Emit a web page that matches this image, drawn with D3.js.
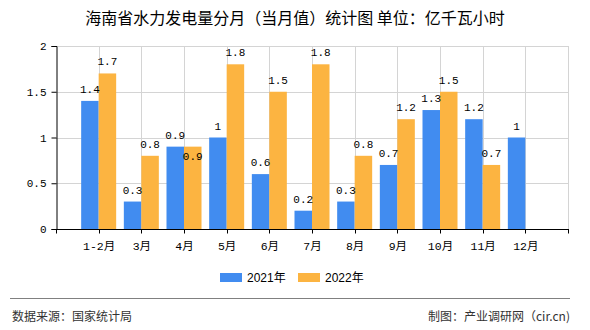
<!DOCTYPE html>
<html>
<head>
<meta charset="utf-8">
<script src="https://cdn.jsdelivr.net/npm/d3@7/dist/d3.min.js"></script>
<style>
  html, body { margin: 0; padding: 0; background: #fff; }
  svg { display: block; }
</style>
</head>
<body>
<svg id="chart" width="590" height="330"></svg>
<script>
const categories = ["1-2月", "3月", "4月", "5月", "6月", "7月", "8月", "9月", "10月", "11月", "12月"];
const series2021 = [1.4, 0.3, 0.9, 1, 0.6, 0.2, 0.3, 0.7, 1.3, 1.2, 1];
const series2022 = [1.7, 0.8, 0.9, 1.8, 1.5, 1.8, 0.8, 1.2, 1.5, 0.7, null];
const seriesNames = ["2021年", "2022年"];
const yTicks = [0, 0.5, 1, 1.5, 2];
const colors = ["#418CF0", "#FCB441"];

(function () {
const svg = d3.select("#chart");
const pLeft = 56, pRight = 568, pTop = 46, pBottom = 229;
const monoFont = "'Liberation Mono', 'DejaVu Sans Mono', 'Noto Sans CJK SC', monospace";
const cjkFont = "'Noto Sans CJK SC', 'Liberation Sans', sans-serif";

const x = d3.scalePoint().domain(categories).range([pLeft, pRight]).padding(1);
const y = d3.scaleLinear().domain([0, 2]).range([pBottom, pTop]);
const barW = 17.5;

// Title
svg.append("text")
  .attr("x", 295).attr("y", 24)
  .attr("text-anchor", "middle")
  .attr("font-family", cjkFont)
  .attr("font-size", 16)
  .attr("fill", "#000")
  .text("海南省水力发电量分月（当月值）统计图 单位：亿千瓦小时");

// Grid: horizontal
const grid = svg.append("g").attr("stroke", "#d4d4d4").attr("stroke-width", 1);
yTicks.filter(t => t > 0).forEach(t => {
  grid.append("line")
    .attr("x1", pLeft).attr("x2", pRight)
    .attr("y1", Math.round(y(t)) + 0.5).attr("y2", Math.round(y(t)) + 0.5);
});
// Grid: vertical at each category + right border
categories.map(c => x(c)).concat([pRight]).forEach(v => {
  grid.append("line")
    .attr("x1", Math.round(v) + 0.5).attr("x2", Math.round(v) + 0.5)
    .attr("y1", pTop).attr("y2", pBottom);
});

// Bars
const data = categories.map((c, i) => ({ c, v: [series2021[i], series2022[i]] }));
const bars = svg.append("g");
data.forEach(d => {
  d.v.forEach((v, k) => {
    if (v == null) return;
    const bx = k === 0 ? x(d.c) - barW : x(d.c);
    bars.append("rect")
      .attr("x", bx).attr("width", barW)
      .attr("y", y(v)).attr("height", y(0) - y(v))
      .attr("fill", colors[k]);
  });
});

// Data labels
const labels = svg.append("g")
  .attr("font-family", monoFont)
  .attr("font-size", 11)
  .attr("fill", "#000")
  .attr("text-anchor", "middle");
data.forEach(d => {
  d.v.forEach((v, k) => {
    if (v == null) return;
    const cx = k === 0 ? x(d.c) - barW / 2 : x(d.c) + barW / 2;
    const collide = k === 1 && d.v[0] === v;
    const ly = collide ? y(v) + 13 : y(v) - 8;
    labels.append("text").attr("x", cx).attr("y", ly).text(String(v));
  });
});

// y axis
const yAxis = d3.axisLeft(y).tickValues(yTicks).tickSize(5).tickPadding(5).tickFormat(d => String(d));
const yg = svg.append("g").attr("transform", `translate(${pLeft + 0.5},0)`).call(yAxis);
yg.select(".domain").attr("stroke", "#000");
yg.selectAll(".tick line").attr("stroke", "#000");
yg.selectAll(".tick text").attr("font-family", monoFont).attr("font-size", 11).attr("fill", "#000");

// x axis
const xg = svg.append("g").attr("transform", `translate(0,${pBottom + 0.5})`);
xg.append("line").attr("x1", pLeft).attr("x2", pRight + 1).attr("stroke", "#000");
[pLeft].concat(categories.map(c => x(c))).concat([pRight]).forEach(v => {
  xg.append("line")
    .attr("x1", Math.round(v) + 0.5).attr("x2", Math.round(v) + 0.5)
    .attr("y1", 0).attr("y2", 4).attr("stroke", "#000");
});
const xAxis = d3.axisBottom(x).tickSize(0).tickPadding(12);
const xg2 = svg.append("g").attr("transform", `translate(0,${pBottom + 0.5})`).call(xAxis);
xg2.select(".domain").remove();
xg2.selectAll(".tick text").attr("font-family", monoFont).attr("font-size", 11.5).attr("fill", "#000");

// Legend
const legend = svg.append("g");
const legendX = [220, 298];
seriesNames.forEach((n, i) => {
  legend.append("rect").attr("x", legendX[i]).attr("y", 273).attr("width", 22).attr("height", 9).attr("fill", colors[i]);
  legend.append("text").attr("x", legendX[i] + 27).attr("y", 282)
    .attr("font-family", "'Liberation Sans', 'Noto Sans CJK SC', sans-serif")
    .attr("font-size", 12).attr("fill", "#000").text(n);
});

// Footer
svg.append("line").attr("x1", 10).attr("x2", 570).attr("y1", 298.5).attr("y2", 298.5)
  .attr("stroke", "#808080").attr("stroke-width", 1);
svg.append("text").attr("x", 12).attr("y", 321)
  .attr("font-family", cjkFont).attr("font-size", 12).attr("fill", "#333")
  .text("数据来源：国家统计局");
svg.append("text").attr("x", 570).attr("y", 321).attr("text-anchor", "end")
  .attr("font-family", cjkFont).attr("font-size", 12).attr("fill", "#333")
  .text("制图：产业调研网（cir.cn)");
})();
</script>
</body>
</html>
